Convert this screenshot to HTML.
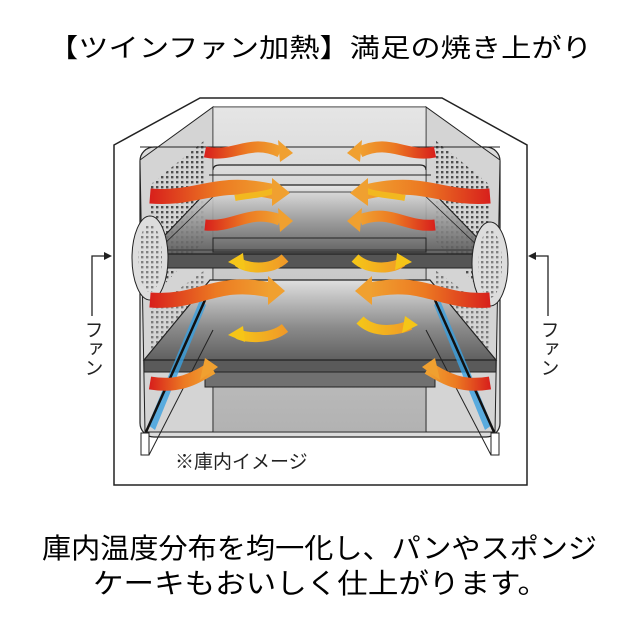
<!DOCTYPE html>
<html><head><meta charset="utf-8"><style>
html,body{margin:0;padding:0;background:#fff}
svg{display:block}
text{font-family:"Liberation Sans","Noto Sans CJK JP",sans-serif}
</style></head><body>
<svg width="640" height="640" viewBox="0 0 640 640" xmlns="http://www.w3.org/2000/svg">
<defs>
<linearGradient id="floor" x1="0" y1="0" x2="0" y2="1">
<stop offset="0" stop-color="#e8e8e8"/><stop offset="0.5" stop-color="#9a9a9a"/><stop offset="1" stop-color="#555"/>
</linearGradient>
<linearGradient id="floor2" x1="0" y1="0" x2="0" y2="1">
<stop offset="0" stop-color="#e0e0e0"/><stop offset="0.6" stop-color="#8a8a8a"/><stop offset="1" stop-color="#606060"/>
</linearGradient>
<linearGradient id="rl" x1="0" y1="0" x2="1" y2="0">
<stop offset="0" stop-color="#d8201c"/><stop offset="0.55" stop-color="#ec7a22"/><stop offset="1" stop-color="#f0a030"/>
</linearGradient>
<linearGradient id="rr" x1="1" y1="0" x2="0" y2="0">
<stop offset="0" stop-color="#d8201c"/><stop offset="0.55" stop-color="#ec7a22"/><stop offset="1" stop-color="#f0a030"/>
</linearGradient>
<linearGradient id="yl" x1="0" y1="0" x2="1" y2="0">
<stop offset="0" stop-color="#f5c518"/><stop offset="1" stop-color="#f09a28"/>
</linearGradient>
<pattern id="dots" width="5" height="5" patternUnits="userSpaceOnUse"><rect x="1" y="1" width="2.4" height="2.4" fill="#222"/></pattern>
</defs>

<text x="48" y="57" font-size="26" textLength="544" lengthAdjust="spacingAndGlyphs">【ツインファン加熱】満足の焼き上がり</text>

<polygon points="114,145 200,98 442,98 527,145 527,485 114,485" fill="#fff" stroke="#222" stroke-width="1.5"/>
<rect x="140" y="147" width="360" height="290" rx="14" fill="#dcdcdc" stroke="#222" stroke-width="1.2"/>
<polygon points="140,160 213,107 213,432 145,432" fill="#d4d4d4" stroke="#222"/>
<polygon points="500,160 426,107 426,432 495,432" fill="#d4d4d4" stroke="#222"/>
<polygon points="150,185 205,140 205,240 150,300" fill="url(#dots)" opacity="0.75"/>
<polygon points="490,185 435,140 435,240 490,300" fill="url(#dots)" opacity="0.75"/>
<polygon points="150,310 205,270 205,330 150,370" fill="url(#dots)" opacity="0.5"/>
<polygon points="490,310 435,270 435,330 490,370" fill="url(#dots)" opacity="0.5"/>
<rect x="213" y="107" width="213" height="325" fill="#e4e4e4" stroke="#222"/>
<rect x="213" y="107" width="213" height="325" fill="url(#floor)" opacity="0.35"/>
<line x1="140" y1="147" x2="500" y2="147" stroke="#222"/>
<path d="M213,170 Q213,165 220,165 L420,165 Q426,165 426,170" fill="none" stroke="#222" stroke-width="1.2"/>
<path d="M209,175 L431,175" stroke="#222" stroke-width="1"/>
<polygon points="213,185 426,185 493,254 147,254" fill="url(#floor)" opacity="0.9"/>
<polygon points="147,254 493,254 493,268 147,268" fill="#555" stroke="#222"/>
<polygon points="213,185 426,185 493,254 147,254" fill="none" stroke="#222" stroke-width="1.2"/>
<polygon points="218,192 421,192 482,250 158,250" fill="none" stroke="#222" stroke-width="0.8"/>
<rect x="213" y="238" width="213" height="14" fill="none" stroke="#222"/>
<polygon points="210,280 430,280 496,360 144,360" fill="url(#floor2)"/>
<polygon points="144,360 496,360 496,372 144,372" fill="#5a5a5a" stroke="#222"/>
<polygon points="210,280 430,280 496,360 144,360" fill="none" stroke="#222" stroke-width="1.2"/>
<rect x="205" y="372" width="230" height="15" fill="#707070" stroke="#222"/>
<polygon points="148,425 200,300 206,305 155,430" fill="#3aa0e0" opacity="0.8"/>
<polygon points="492,425 440,300 434,305 485,430" fill="#3aa0e0" opacity="0.8"/>
<line x1="146" y1="432" x2="205" y2="300" stroke="#111" stroke-width="2.5"/>
<line x1="494" y1="432" x2="435" y2="300" stroke="#111" stroke-width="2.5"/>
<polygon points="141,433 149,433 149,455 141,455" fill="#fff" stroke="#222"/>
<polygon points="491,433 499,433 499,455 491,455" fill="#fff" stroke="#222"/>
<line x1="149" y1="455" x2="213" y2="330" stroke="#222"/>
<line x1="491" y1="455" x2="426" y2="330" stroke="#222"/>
<ellipse cx="150" cy="258" rx="18" ry="42" fill="#ddd" stroke="#222"/>
<ellipse cx="150" cy="258" rx="12" ry="34" fill="url(#dots)" opacity="0.5"/>
<ellipse cx="490" cy="264" rx="18" ry="42" fill="#ddd" stroke="#222"/>
<ellipse cx="490" cy="264" rx="12" ry="34" fill="url(#dots)" opacity="0.5"/>

<polyline points="92,316 92,256 110,256" fill="none" stroke="#222" stroke-width="1.3"/>
<polygon points="112,256 104,252 104,260" fill="#222"/>
<polyline points="548,316 548,256 530,256" fill="none" stroke="#222" stroke-width="1.3"/>
<polygon points="528,256 536,252 536,260" fill="#222"/>
<text x="92" y="320" font-size="19" fill="#222" style="writing-mode:vertical-rl;writing-mode:tb">ファン</text>
<text x="548" y="320" font-size="19" fill="#222" style="writing-mode:vertical-rl;writing-mode:tb">ファン</text>

<g stroke-linecap="butt" fill="none">
<path d="M205,152 C235,158 250,138 280,152" stroke="url(#rl)" stroke-width="11"/>
<path d="M435,152 C405,158 390,138 360,152" stroke="url(#rr)" stroke-width="11"/>
<path d="M150,196 C200,200 215,178 275,192" stroke="url(#rl)" stroke-width="15"/>
<path d="M490,196 C440,200 425,178 365,192" stroke="url(#rr)" stroke-width="15"/>
<path d="M205,225 C235,228 250,208 280,220" stroke="url(#rl)" stroke-width="11"/>
<path d="M435,225 C405,228 390,208 360,220" stroke="url(#rr)" stroke-width="11"/>
<path d="M150,300 C200,304 215,278 270,290" stroke="url(#rl)" stroke-width="15"/>
<path d="M490,300 C440,304 425,278 370,290" stroke="url(#rr)" stroke-width="15"/>
<path d="M150,383 C180,388 195,378 212,368" stroke="url(#rl)" stroke-width="13"/>
<path d="M490,383 C460,388 445,378 428,368" stroke="url(#rr)" stroke-width="13"/>
<path d="M285,258 C270,272 245,268 238,262" stroke="url(#yl)" stroke-width="10"/>
<path d="M355,258 C370,272 395,268 402,262" stroke="url(#yl)" stroke-width="10"/>
<path d="M285,328 C270,340 245,338 238,334" stroke="url(#yl)" stroke-width="10"/>
<path d="M360,320 C375,335 400,330 410,325" stroke="url(#yl)" stroke-width="10"/>
<path d="M275,190 C265,195 250,195 235,198" stroke="#f2b820" stroke-width="6"/>
<path d="M365,190 C375,195 390,195 405,198" stroke="#f2b820" stroke-width="6"/>
</g>
<g fill="#f0a030">
<polygon points="278,140 293,153 280,162"/>
<polygon points="362,140 347,153 360,162"/>
<polygon points="272,178 290,193 272,206"/>
<polygon points="368,178 350,193 368,206"/>
<polygon points="278,208 293,221 280,232"/>
<polygon points="362,208 347,221 360,232"/>
<polygon points="268,276 285,291 268,305"/>
<polygon points="372,276 355,291 372,305"/>
<polygon points="205,358 218,367 200,380"/>
<polygon points="435,358 422,367 440,380"/>
</g>
<g fill="#f5c518">
<polygon points="243,253 228,262 245,270"/>
<polygon points="397,253 412,262 395,270"/>
<polygon points="243,326 228,335 245,342"/>
<polygon points="405,316 418,325 402,333"/>
</g>

<text x="175" y="468" font-size="19" fill="#222">※庫内イメージ</text>

<text x="42" y="558" font-size="28" textLength="555" lengthAdjust="spacingAndGlyphs">庫内温度分布を均一化し、パンやスポンジ</text>
<text x="93" y="593" font-size="28" textLength="455" lengthAdjust="spacingAndGlyphs">ケーキもおいしく仕上がります。</text>
</svg>
</body></html>
